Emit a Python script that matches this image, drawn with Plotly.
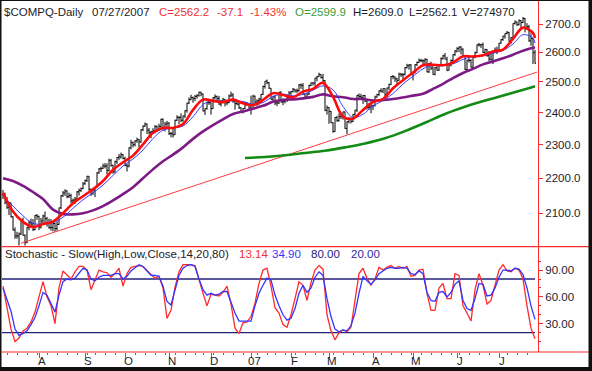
import numpy as np
import pandas as pd
import plotly.graph_objects as go

# ---------------- calendar (trading days) ----------------
holidays = ["2006-09-04", "2006-11-23", "2006-12-25", "2007-01-01", "2007-01-02",
            "2007-01-15", "2007-02-19", "2007-04-06", "2007-05-28", "2007-07-04"]
days = pd.bdate_range("2006-07-06", "2007-07-27")
days = days[~days.isin(pd.to_datetime(holidays))]
n = len(days)
xi = list(range(n))

# ---------------- daily price data ----------------
close = [
    2155.1, 2130.1, 2116.7, 2128.9, 2090.2, 2054.1, 2037.4, 2037.7, 2043.2, 2080.7, 2039.4, 2020.4, 2061.4, 2073.9, 2070.5, 2054.9, 2094.1, 2091.5,
    2062.0, 2078.8, 2092.3, 2085.1, 2072.5, 2060.9, 2060.3, 2071.7, 2057.7, 2069.0, 2115.0, 2149.5, 2157.6, 2163.1, 2147.0, 2150.0, 2134.7, 2137.1, 2140.3, 2160.7, 2164.6, 2170.0, 2183.8,
    2193.2, 2205.7, 2167.8, 2155.3, 2165.8, 2173.3, 2215.8, 2227.7, 2228.7, 2235.6, 2235.8, 2222.4, 2252.9, 2237.8, 2218.6, 2249.1, 2261.3, 2263.4, 2270.0, 2258.4,
    2237.8, 2235.6, 2290.9, 2306.3, 2300.0, 2311.8, 2315.4, 2308.5, 2346.2, 2357.3, 2363.8, 2344.9, 2337.2, 2340.9, 2342.3, 2355.6, 2344.8, 2356.6, 2379.1, 2350.6, 2363.8, 2366.7,
    2334.4, 2334.1, 2330.8, 2375.8, 2385.4, 2384.9, 2376.0, 2389.7, 2406.4, 2430.7, 2442.8, 2449.1, 2445.9, 2452.7, 2454.8, 2466.0, 2460.3, 2405.9, 2412.6, 2432.2, 2431.8,
    2413.2, 2448.4, 2452.4, 2445.9, 2427.7, 2437.4, 2442.9, 2431.6, 2432.2, 2453.9, 2457.2, 2435.6, 2429.6, 2427.6, 2415.9, 2401.2, 2413.5, 2431.6, 2425.6, 2415.3,
    2423.2, 2453.4, 2434.3, 2438.2, 2443.8, 2459.3, 2484.9, 2502.8, 2497.8, 2479.4, 2443.2, 2451.3, 2431.1, 2431.4, 2466.3, 2434.2, 2435.5, 2441.1, 2448.6, 2463.9,
    2468.4, 2475.9, 2470.6, 2471.5, 2490.5, 2488.7, 2459.8, 2450.4, 2459.9, 2488.4, 2497.1, 2496.3, 2513.0, 2518.4, 2524.9, 2515.1, 2504.5, 2407.9, 2416.2,
    2404.2, 2368.0, 2340.7, 2385.1, 2374.6, 2387.6, 2387.7, 2402.3, 2350.6, 2371.7, 2378.7, 2372.7, 2394.4, 2408.2, 2455.9, 2452.1, 2448.9, 2455.6, 2437.4, 2417.1, 2417.9, 2421.6,
    2422.3, 2450.3, 2458.7, 2471.3, 2469.6, 2477.6, 2459.3, 2480.3, 2491.9, 2518.3, 2516.9, 2510.5, 2505.4, 2526.4, 2523.7, 2524.5, 2547.9, 2554.5, 2557.2, 2525.1,
    2531.5, 2557.8, 2565.5, 2572.2, 2571.8, 2570.9, 2576.3, 2533.7, 2562.2, 2546.4, 2525.3, 2547.4, 2539.4, 2558.5, 2578.8, 2588.0, 2577.1, 2539.7, 2557.2, 2572.2, 2592.6, 2604.5,
    2613.9, 2618.3, 2611.2, 2587.2, 2541.4, 2573.5, 2572.2, 2549.5, 2583.3, 2599.3, 2626.7, 2626.2, 2626.7, 2599.9, 2609.6, 2588.9, 2577.1, 2574.2, 2605.3, 2608.4, 2603.2,
    2632.3, 2644.9, 2656.8, 2666.5, 2670.1, 2639.2, 2651.3, 2701.7, 2707.0, 2697.3, 2712.3, 2705.6, 2720.0, 2687.6, 2690.6, 2639.9, 2648.1, 2599.3, 2562.2,
]
high = [
    2166, 2158, 2146, 2131, 2130, 2092, 2061, 2049, 2047, 2083, 2088, 2042, 2062, 2080, 2085, 2084, 2095, 2098,
    2093, 2087, 2096, 2105, 2090, 2085, 2084, 2074, 2074, 2078, 2116, 2151, 2163, 2168, 2165, 2158, 2155, 2141, 2146, 2163, 2170, 2173, 2189,
    2196, 2207, 2206, 2170, 2172, 2175, 2218, 2230, 2234, 2243, 2245, 2244, 2258, 2257, 2240, 2252, 2263, 2272, 2276, 2272,
    2264, 2243, 2292, 2315, 2310, 2314, 2322, 2318, 2348, 2360, 2369, 2366, 2352, 2343, 2351, 2361, 2360, 2365, 2381, 2382, 2371, 2374,
    2370, 2340, 2349, 2378, 2392, 2389, 2398, 2391, 2408, 2432, 2449, 2458, 2452, 2457, 2460, 2468, 2468, 2462, 2414, 2435, 2443,
    2433, 2450, 2459, 2455, 2454, 2441, 2448, 2444, 2442, 2459, 2468, 2463, 2438, 2440, 2432, 2417, 2415, 2434, 2433, 2428,
    2455, 2458, 2455, 2443, 2448, 2460, 2488, 2503, 2508, 2500, 2480, 2455, 2456, 2439, 2467, 2469, 2446, 2445, 2450, 2470,
    2470, 2480, 2477, 2478, 2493, 2495, 2496, 2461, 2463, 2491, 2498, 2499, 2514, 2520, 2531, 2526, 2527, 2506, 2423,
    2418, 2406, 2370, 2386, 2390, 2398, 2400, 2404, 2404, 2373, 2386, 2385, 2396, 2409, 2457, 2462, 2461, 2457, 2457, 2439, 2432, 2436,
    2426, 2455, 2461, 2472, 2479, 2479, 2479, 2481, 2494, 2520, 2523, 2519, 2514, 2531, 2530, 2530, 2550, 2561, 2560, 2560,
    2535, 2560, 2569, 2579, 2578, 2576, 2580, 2578, 2564, 2568, 2556, 2550, 2554, 2560, 2583, 2592, 2598, 2585, 2560, 2576, 2594, 2608,
    2618, 2621, 2622, 2614, 2588, 2575, 2582, 2577, 2585, 2603, 2628, 2633, 2630, 2634, 2613, 2612, 2605, 2595, 2606, 2617, 2620,
    2633, 2646, 2658, 2667, 2675, 2672, 2654, 2702, 2713, 2709, 2717, 2714, 2725, 2722, 2703, 2696, 2667, 2650, 2609.0,
]
low = [
    2140, 2125, 2112, 2095, 2088, 2052, 2030, 2030, 2012, 2040, 2038, 2012, 2018, 2053, 2063, 2051, 2053, 2082,
    2054, 2058, 2068, 2070, 2063, 2057, 2052, 2050, 2049, 2052, 2068, 2112, 2146, 2149, 2142, 2143, 2128, 2126, 2126, 2138, 2150, 2160, 2168,
    2181, 2189, 2164, 2149, 2152, 2146, 2172, 2213, 2218, 2227, 2229, 2211, 2220, 2234, 2213, 2216, 2242, 2254, 2258, 2256,
    2235, 2220, 2232, 2286, 2292, 2295, 2306, 2292, 2306, 2342, 2355, 2333, 2331, 2320, 2333, 2335, 2339, 2342, 2352, 2345, 2341, 2353,
    2330, 2323, 2322, 2330, 2374, 2364, 2370, 2371, 2383, 2400, 2428, 2440, 2432, 2437, 2445, 2452, 2453, 2404, 2393, 2410, 2425,
    2394, 2412, 2443, 2440, 2425, 2420, 2432, 2420, 2424, 2430, 2450, 2432, 2410, 2424, 2412, 2399, 2398, 2412, 2422, 2413,
    2394, 2413, 2425, 2422, 2425, 2430, 2457, 2478, 2492, 2477, 2442, 2438, 2424, 2421, 2428, 2433, 2424, 2430, 2434, 2440,
    2455, 2465, 2465, 2463, 2468, 2477, 2457, 2448, 2446, 2457, 2486, 2488, 2487, 2502, 2516, 2511, 2497, 2405, 2394,
    2365, 2367, 2337, 2340, 2371, 2372, 2380, 2378, 2349, 2332, 2366, 2366, 2370, 2390, 2402, 2444, 2445, 2428, 2434, 2410, 2409, 2398,
    2408, 2420, 2448, 2454, 2465, 2463, 2454, 2450, 2474, 2490, 2509, 2500, 2490, 2504, 2517, 2510, 2522, 2545, 2541, 2524,
    2505, 2528, 2553, 2564, 2566, 2554, 2560, 2532, 2530, 2540, 2524, 2522, 2537, 2537, 2556, 2575, 2576, 2536, 2538, 2552, 2560, 2588,
    2600, 2601, 2593, 2584, 2540, 2538, 2565, 2548, 2546, 2580, 2597, 2620, 2615, 2598, 2591, 2585, 2570, 2572, 2560, 2600, 2594,
    2601, 2630, 2640, 2648, 2663, 2637, 2630, 2650, 2698, 2693, 2695, 2680, 2703, 2670, 2684, 2637, 2623, 2560, 2562.1,
]
first_open = 2153.3
open_ = [first_open] + close[:-1]

# ---------------- moving averages (read every 5th bar) ----------------
ma_days = list(range(0, n - 1, 5)) + [n - 1]
ma_fast = [2157, 2105, 2076, 2062, 2070, 2077, 2100, 2128, 2148, 2168, 2192, 2225, 2247, 2267, 2301, 2337, 2352, 2352,
           2364, 2409, 2442, 2438, 2434, 2442, 2430, 2424, 2441, 2463, 2457, 2450, 2468, 2477, 2497, 2451, 2388, 2381,
           2409, 2434, 2444, 2479, 2506, 2531, 2556, 2558, 2556, 2565, 2587, 2586, 2590, 2603, 2610, 2647, 2687, 2668, 2650]
ma_mid = [2150, 2120, 2093, 2072, 2070, 2074, 2089, 2114, 2138, 2158, 2180, 2208, 2236, 2257, 2284, 2319, 2345, 2352,
          2358, 2387, 2426, 2440, 2436, 2438, 2436, 2427, 2433, 2452, 2460, 2454, 2459, 2473, 2487, 2474, 2420, 2385,
          2395, 2422, 2439, 2462, 2493, 2519, 2544, 2557, 2557, 2561, 2576, 2587, 2588, 2597, 2607, 2629, 2662, 2650, 2632]
ma_50 = [2200, 2192, 2178, 2160, 2140, 2110, 2098, 2097, 2100, 2108, 2120, 2136, 2154, 2174, 2200, 2226, 2250, 2270,
         2292, 2318, 2341, 2361, 2379, 2396, 2404, 2413, 2422, 2435, 2441, 2443, 2446, 2451, 2459, 2453, 2450, 2444,
         2444, 2439, 2441, 2444, 2449, 2455, 2461, 2477, 2494, 2513, 2530, 2544, 2559, 2569, 2580, 2592, 2606, 2616, 2617]
ma200_days = list(range(121, 262, 10)) + [n - 1]
ma_200 = [2260, 2263, 2268, 2275, 2282, 2292, 2304, 2320, 2342, 2368, 2396, 2419, 2439, 2457, 2476, 2486]

trend_days = [9, 267]
trend_vals = [2018, 2533]

# ---------------- slow stochastic (read every 2nd bar) ----------------
stoch_days = list(range(0, n, 2))
stoch_k = [72, 50, 24, 10, 14, 22, 25, 32, 43, 60,
           77, 60, 50, 30, 70, 89, 85, 80, 88, 94,
           94, 90, 68, 79, 90, 88, 87, 82, 86, 92,
           72, 86, 93, 94, 95, 94, 89, 85, 81, 83,
           70, 36, 45, 71, 88, 96, 96, 96, 95, 78,
           64, 50, 63, 62, 61, 65, 72, 52, 25, 19,
           31, 32, 38, 53, 75, 90, 92, 72, 48, 42,
           29, 26, 40, 58, 77, 73, 56, 76, 90, 95,
           91, 40, 22, 12, 20, 23, 21, 26, 55, 86,
           92, 81, 73, 80, 93, 90, 93, 95, 92, 94,
           92, 94, 83, 84, 90, 91, 64, 45, 45, 70,
           75, 58, 58, 86, 84, 50, 42, 33, 68, 86,
           73, 52, 56, 73, 90, 96, 89, 88, 92, 90,
           80, 50, 25, 13.14]
stoch_d = [70, 58, 44, 24, 17, 19, 22, 29, 37, 50,
           65, 62, 53, 43, 62, 77, 80, 79, 81, 87,
           92, 90, 80, 78, 82, 84, 84, 84, 86, 86,
           80, 83, 89, 93, 96, 94, 89, 84, 84, 83,
           72, 55, 51, 68, 84, 92, 95, 96, 94, 80,
           68, 62, 64, 62, 63, 66, 66, 54, 42, 33,
           33, 33, 33, 50, 64, 73, 81, 79, 62, 50,
           40, 34, 36, 47, 64, 73, 65, 70, 82, 88,
           84, 58, 38, 24, 21, 23, 22, 28, 42, 64,
           83, 78, 74, 79, 86, 89, 92, 93, 92, 92,
           93, 92, 86, 85, 89, 86, 65, 56, 55, 65,
           66, 60, 65, 74, 78, 56, 47, 45, 58, 75,
           74, 61, 62, 70, 82, 90, 90, 89, 92, 91,
           85, 70, 50, 34.9]
stoch_levels = [80, 20]

price_ticks = [2100, 2200, 2300, 2400, 2500, 2600, 2700]
stoch_ticks = [30, 60, 90]
month_labels = ["A", "S", "O", "N", "D", "07", "F", "M", "A", "M", "J", "J"]

# ---------------- geometry ----------------
W, H = 592, 371
ML, MR, MT, MB = 2, 54, 0, 19
PW, PH = W - ML - MR, H - MT - MB
SPLIT = 246.7


def pxx(xp):
    return (xp - ML) / PW


def pyy(yp):
    return (H - MB - yp) / PH


FONT = "Liberation Sans, Arial, sans-serif"
TXT = "#1c1c2c"
AX = "#ff2a2a"

month_idx = [i for i in range(1, n) if days[i].month != days[i - 1].month]
week_idx = [i for i in range(1, n)
            if days[i].isocalendar()[1] != days[i - 1].isocalendar()[1] and i not in month_idx]

fig = go.Figure()
fig.add_trace(go.Ohlc(x=xi, open=open_, high=high, low=low, close=close,
                      increasing=dict(line=dict(color="#000000", width=1)),
                      decreasing=dict(line=dict(color="#000000", width=1)),
                      tickwidth=0.45, xaxis="x", yaxis="y", hoverinfo="skip", showlegend=False))
fig.add_trace(go.Scatter(x=trend_days, y=trend_vals, mode="lines", xaxis="x", yaxis="y",
                         line=dict(color="#ff3b3b", width=1), showlegend=False, hoverinfo="skip"))
fig.add_trace(go.Scatter(x=ma200_days, y=ma_200, mode="lines", xaxis="x", yaxis="y",
                         line=dict(color="#138a13", width=2.6, shape="spline"), showlegend=False, hoverinfo="skip"))
fig.add_trace(go.Scatter(x=ma_days, y=ma_50, mode="lines", xaxis="x", yaxis="y",
                         line=dict(color="#7d1a86", width=2.6, shape="spline"), showlegend=False, hoverinfo="skip"))
fig.add_trace(go.Scatter(x=ma_days, y=ma_mid, mode="lines", xaxis="x", yaxis="y",
                         line=dict(color="#3a3aff", width=1, shape="spline"), showlegend=False, hoverinfo="skip"))
fig.add_trace(go.Scatter(x=ma_days, y=ma_fast, mode="lines", xaxis="x", yaxis="y",
                         line=dict(color="#ff0a0a", width=2.6, shape="spline"), showlegend=False, hoverinfo="skip"))

for lv in stoch_levels:
    fig.add_trace(go.Scatter(x=[xi[0] - 0.5, xi[-1]], y=[lv, lv], mode="lines", xaxis="x2", yaxis="y2",
                             line=dict(color="#22227a", width=1.3), showlegend=False, hoverinfo="skip"))
fig.add_trace(go.Scatter(x=stoch_days, y=stoch_k, mode="lines", xaxis="x2", yaxis="y2",
                         line=dict(color="#ff2a2a", width=1.3), showlegend=False, hoverinfo="skip"))
fig.add_trace(go.Scatter(x=stoch_days, y=stoch_d, mode="lines", xaxis="x2", yaxis="y2",
                         line=dict(color="#3434ff", width=1.3), showlegend=False, hoverinfo="skip"))

split_frac = pyy(SPLIT)
xr = [-0.5, n + 0.5]
fig.update_layout(
    width=W, height=H, margin=dict(l=ML, r=MR, t=MT, b=MB),
    paper_bgcolor="white", plot_bgcolor="white",
    font=dict(family=FONT, size=11.5, color=TXT),
    xaxis=dict(domain=[0, 1], range=xr, anchor="y", showticklabels=False, ticks="",
               showgrid=False, zeroline=False, showline=False, rangeslider=dict(visible=False)),
    yaxis=dict(domain=[split_frac, 1], type="log",
               range=[np.log10(2700) - (SPLIT - 24) / 1734, np.log10(2700) + 24 / 1734],
               side="right", anchor="x", tickvals=price_ticks, ticktext=[f"{v:.1f}" for v in price_ticks],
               ticks="outside", ticklen=4, tickcolor=AX, showline=True, linecolor=AX, linewidth=1,
               showgrid=False, zeroline=False, tickfont=dict(family=FONT, size=11.5, color=TXT)),
    xaxis2=dict(domain=[0, 1], range=xr, anchor="y2", matches="x", tickvals=month_idx,
                ticks="outside", ticklen=5, tickcolor=AX, showticklabels=False,
                showline=False, showgrid=False, zeroline=False,
                minor=dict(tickmode="array", tickvals=week_idx, ticks="outside", ticklen=2, tickcolor=AX)),
    yaxis2=dict(domain=[0, split_frac], range=[-1.6, 116.1], side="right", anchor="x2",
                tickvals=stoch_ticks, ticktext=[f"{v:.2f}" for v in stoch_ticks],
                ticks="outside", ticklen=4, tickcolor=AX, showline=True, linecolor=AX, linewidth=1,
                showgrid=False, zeroline=False, tickfont=dict(family=FONT, size=11.5, color=TXT),
                minor=dict(tickmode="array", tickvals=[10, 20, 40, 50, 70, 80, 100], ticks="outside",
                           ticklen=2, tickcolor=AX)),
)

shapes = []
for yp in (SPLIT, H - MB):
    shapes.append(dict(type="line", xref="paper", yref="paper", x0=pxx(ML), x1=pxx(589), y0=pyy(yp), y1=pyy(yp),
                       line=dict(color=AX, width=1.2), layer="above"))
for (x0, x1, y0, y1) in [(0, 1.5, 0, H), (0, W, 0, 1), (588.5, W, 0, H), (0, W, 367, H)]:
    shapes.append(dict(type="rect", xref="paper", yref="paper", x0=pxx(x0), x1=pxx(x1), y0=pyy(y1), y1=pyy(y0),
                       fillcolor="#111111", line=dict(width=0), layer="above"))
fig.update_layout(shapes=shapes)

ann = []
header = [(2, "$COMPQ-Daily", TXT), (90, "07/27/2007", TXT), (157, "C=2562.2", "#f23030"),
          (215, "-37.1", "#f23030"), (248, "-1.43%", "#f23030"), (293, "O=2599.9", "#3a9a3a"),
          (351, "H=2609.0", TXT), (407, "L=2562.1", TXT), (460, "V=274970", TXT)]
for xp, t, c in header:
    ann.append(dict(x=pxx(xp), y=pyy(11.5), xref="paper", yref="paper", text=t, showarrow=False,
                    xanchor="left", yanchor="middle", font=dict(family=FONT, size=11.5, color=c)))
stoch_hdr = [(2.5, "Stochastic - Slow(High,Low,Close,14,20,80)", TXT), (237, f"{stoch_k[-1]:.2f}", "#f23030"),
             (270, f"{stoch_d[-1]:.2f}", "#3434ff"), (309, f"{stoch_levels[0]:.2f}", "#22227a"),
             (349, f"{stoch_levels[1]:.2f}", "#2a2a9a")]
for xp, t, c in stoch_hdr:
    ann.append(dict(x=pxx(xp), y=pyy(254), xref="paper", yref="paper", text=t, showarrow=False,
                    xanchor="left", yanchor="middle", font=dict(family=FONT, size=11.5, color=c)))
for i, lab in zip(month_idx, month_labels):
    ann.append(dict(x=i + 1.6, y=pyy(361), xref="x2", yref="paper", text=lab, showarrow=False,
                    xanchor="center", yanchor="middle", font=dict(family=FONT, size=11.5, color=TXT)))
fig.update_layout(annotations=ann)

fig.write_html("out.html", config={"displayModeBar": False, "staticPlot": True},
               post_script="document.body.style.margin='0px';document.body.style.overflow='hidden';")
